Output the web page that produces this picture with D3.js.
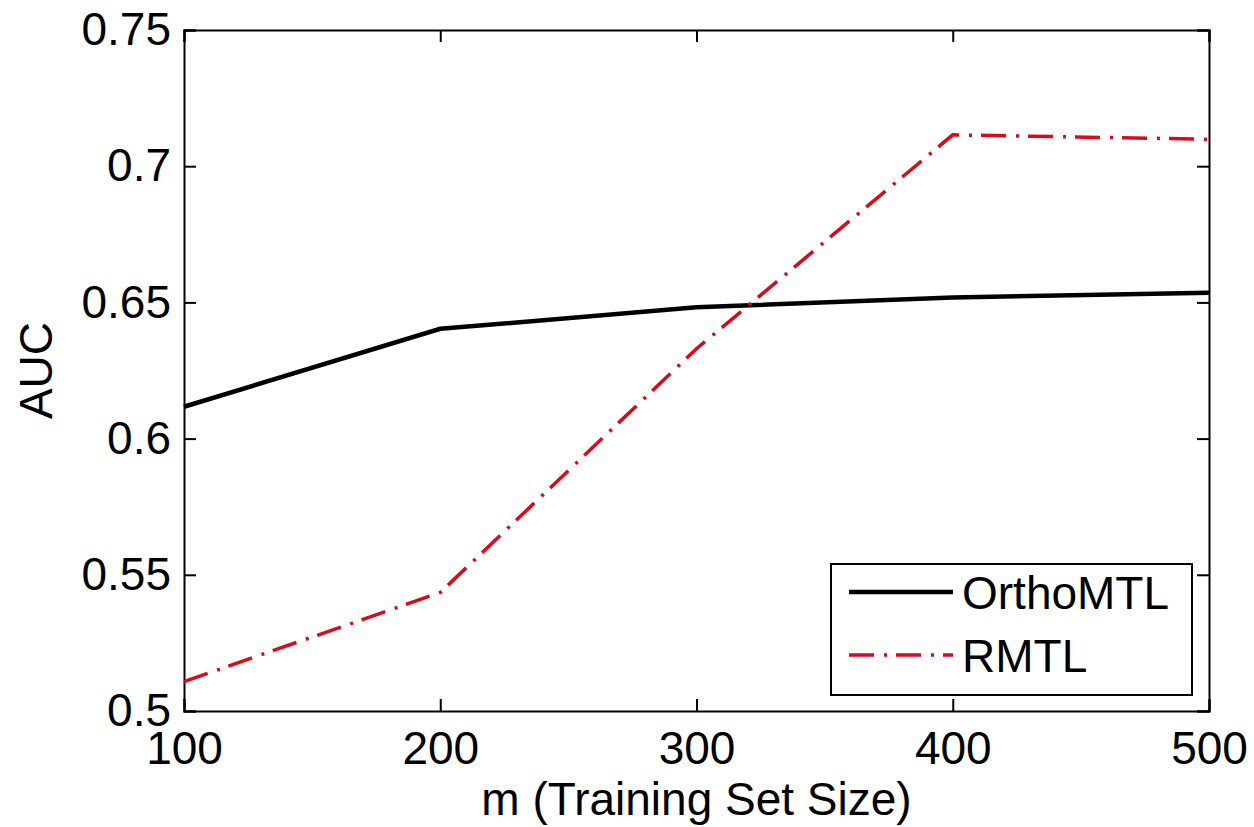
<!DOCTYPE html>
<html>
<head>
<meta charset="utf-8">
<script src="https://cdn.jsdelivr.net/npm/d3@7"></script>
<style>
  body { margin: 0; background: #fff; }
  text { font-family: "Liberation Sans", Arial, sans-serif; fill: #000; }
</style>
</head>
<body>
<div id="container"></div>
<script>
const trainSizes = [100, 200, 300, 400, 500]
const orthoMTL = [0.6117, 0.6403, 0.6482, 0.6518, 0.6535]
const rmtl = [0.5108, 0.5435, 0.6330, 0.7115, 0.7099]
const xTicks = [100, 200, 300, 400, 500]
const yTicks = [0.5, 0.55, 0.6, 0.65, 0.7, 0.75]

const w = 1254
const h = 827
const margin = { left: 184, right: 45, top: 30, bottom: 116 }

const svg = d3.select('#container')
  .append('svg')
  .attr('width', w)
  .attr('height', h)

//SCALES
const x = d3.scaleLinear()
  .domain([100, 500])
  .range([margin.left, w - margin.right])

const y = d3.scaleLinear()
  .domain([0.5, 0.75])
  .range([h - margin.bottom, margin.top])

const fontSize = 46
const tickLen = 12

//AXES (MATLAB style box, ticks inside)
const bottomAxis = svg.append('g')
  .attr('transform', `translate(0,${y(0.5)})`)
  .call(d3.axisBottom(x).tickValues(xTicks).tickSize(-tickLen).tickPadding(20).tickFormat(d3.format('d')))

const topAxis = svg.append('g')
  .attr('transform', `translate(0,${y(0.75)})`)
  .call(d3.axisTop(x).tickValues(xTicks).tickSize(-tickLen).tickFormat(''))

const leftAxis = svg.append('g')
  .attr('transform', `translate(${x(100)},0)`)
  .call(d3.axisLeft(y).tickValues(yTicks).tickSize(-tickLen).tickPadding(13).tickFormat(d => d3.format('')(+d.toFixed(2))))

const rightAxis = svg.append('g')
  .attr('transform', `translate(${x(500)},0)`)
  .call(d3.axisRight(y).tickValues(yTicks).tickSize(-tickLen).tickFormat(''))

svg.selectAll('.domain, .tick line')
  .attr('stroke', '#000')
  .attr('stroke-width', 2)

svg.selectAll('.tick text')
  .style('font-size', fontSize + 'px')
  .attr('fill', '#000')

//LINES
const line = d3.line()
  .x((d, i) => x(trainSizes[i]))
  .y(d => y(d))

svg.append('path')
  .datum(orthoMTL)
  .attr('fill', 'none')
  .attr('stroke', '#000')
  .attr('stroke-width', 4.5)
  .attr('d', line)

svg.append('path')
  .datum(rmtl)
  .attr('fill', 'none')
  .attr('stroke', '#d80a1c')
  .attr('stroke-width', 3.5)
  .attr('stroke-dasharray', '25,10,3,9')
  .attr('d', line)

//AXIS LABELS
svg.append('text')
  .attr('x', (x(100) + x(500)) / 2)
  .attr('y', 815)
  .attr('text-anchor', 'middle')
  .style('font-size', fontSize + 'px')
  .text('m (Training Set Size)')

svg.append('text')
  .attr('transform', `translate(52,${(y(0.5) + y(0.75)) / 2}) rotate(-90)`)
  .attr('text-anchor', 'middle')
  .style('font-size', fontSize + 'px')
  .text('AUC')

//LEGEND
const legend = svg.append('g')
  .attr('transform', 'translate(831,564)')

legend.append('rect')
  .attr('width', 361)
  .attr('height', 131)
  .attr('fill', '#fff')
  .attr('stroke', '#000')
  .attr('stroke-width', 2)

const legendItems = [
  { name: 'OrthoMTL', color: '#000', width: 4.5, dash: null },
  { name: 'RMTL', color: '#d80a1c', width: 3.5, dash: '25,10,3,9' }
]

legendItems.forEach((d, i) => {
  const ly = 28 + i * 63
  legend.append('line')
    .attr('x1', 18)
    .attr('x2', 122)
    .attr('y1', ly)
    .attr('y2', ly)
    .attr('stroke', d.color)
    .attr('stroke-width', d.width)
    .attr('stroke-dasharray', d.dash)
  legend.append('text')
    .attr('x', 131)
    .attr('y', ly + 17)
    .style('font-size', fontSize + 'px')
    .text(d.name)
})
</script>
</body>
</html>
